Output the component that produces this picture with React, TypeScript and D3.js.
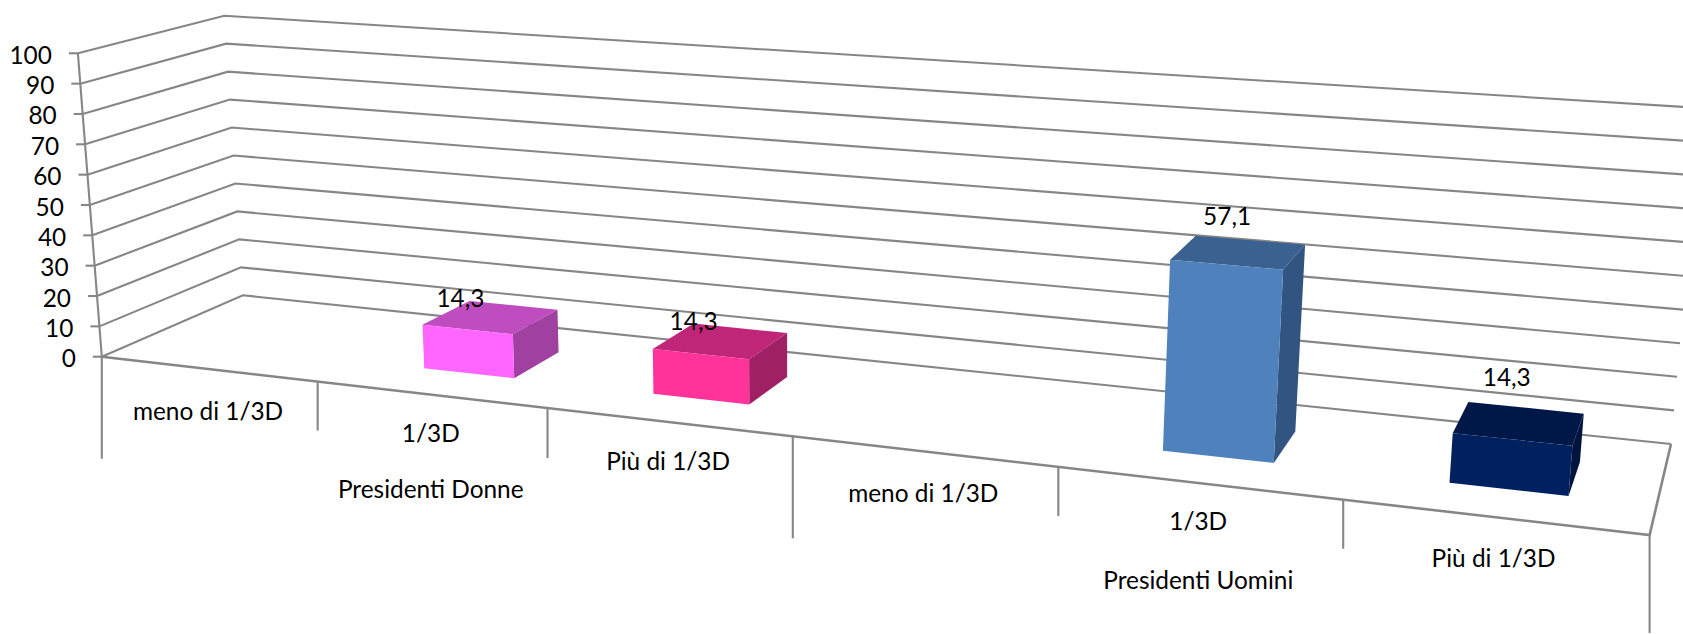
import React from "react";
import * as d3 from "d3";

const WIDTH = 1683;
const HEIGHT = 634;

const yTicks = [0, 10, 20, 30, 40, 50, 60, 70, 80, 90, 100];
const categories = ["meno di 1/3D", "1/3D", "Più di 1/3D", "meno di 1/3D", "1/3D", "Più di 1/3D"];
const groups = ["Presidenti Donne", "Presidenti Uomini"];
const values: (number | null)[] = [null, 14.3, 14.3, null, 57.1, 14.3];
const valueLabels = ["", "14,3", "14,3", "", "57,1", "14,3"];
const frontColors = ["", "#FF66FF", "#FF3399", "", "#4F81BD", "#002060"];
const topColors = ["", "#C04DBF", "#C02678", "", "#3B6190", "#001848"];
const sideColors = ["", "#A040A0", "#A02065", "", "#325480", "#00143E"];

// projection anchors of the 3D box
const FL = [101.8, 356.7];
const FR = [1649.6, 535];
const BL = [242.9, 295.3];
const BR = [1671, 444];
const frontLeftX = d3.scaleLinear().domain([0, 100]).range([101.8, 77.9]);
const frontLeftY = d3.scaleLinear().domain([0, 100]).range([356.7, 53.3]);
const backLeftX = d3.scaleLinear().domain([0, 100]).range([242.9, 224.3]);
const backLeftY = d3.scaleLinear().domain([0, 100]).range([295.3, 15.7]);
const backRightX = d3.scaleLinear().domain([0, 100]).range([1671, 1701]);
const backRightY = d3.scaleLinear().domain([0, 100]).range([444, 108]);
const catPos = d3.scaleLinear().domain([0, 3, 6]).range([0, 0.497, 1]);

const dx1 = FR[0] - BR[0], dx2 = BL[0] - BR[0], sx = FL[0] - FR[0] + BR[0] - BL[0];
const dy1 = FR[1] - BR[1], dy2 = BL[1] - BR[1], sy = FL[1] - FR[1] + BR[1] - BL[1];
const det = dx1 * dy2 - dx2 * dy1;
const g = (sx * dy2 - dx2 * sy) / det;
const h = (dx1 * sy - sx * dy1) / det;
const floor = (t: number, d: number): [number, number] => {
  const u = catPos(t);
  const w = g * u + h * d + 1;
  return [
    ((FR[0] - FL[0] + g * FR[0]) * u + (BL[0] - FL[0] + h * BL[0]) * d + FL[0]) / w,
    ((FR[1] - FL[1] + g * FR[1]) * u + (BL[1] - FL[1] + h * BL[1]) * d + FL[1]) / w,
  ];
};
const lift = (p: [number, number], v: number): [number, number] => [
  p[0] + (v / 100) * (p[0] - 790) * 0.034,
  p[1] - (v / 100) * (166 + 0.0004 * p[0] + 0.372 * p[1]),
];

const line = d3.line();
const GRID = "#868686";
const FONT = "Lato, 'Open Sans', sans-serif";
const FS = 24.4;
const STROKE = 2.1;
const BAR_FRONT = 0.3;
const BAR_BACK = 0.68;

const dividerDrops = [102, 49, 50, 102, 49, 49, 98];
const labelDrops = [42, 38, 39, 41, 37, 40];
const groupDrops = [94, 96];
const barShift = [0, 0, 0, 0, 0, 0.012];
const valueNudge = [[0, 0], [-97, -12.5], [-93.5, -12.5], [0, 0], [-78, -29], [-77, -37.5]];

export default function App() {
  return (
    <svg
      width={WIDTH}
      height={HEIGHT}
      style={{ position: "absolute", left: 0, top: 0, display: "block", background: "#fff" }}
    >
      {yTicks.map((v) => (
        <path
          key={v}
          d={line([
            [frontLeftX(v), frontLeftY(v)],
            [backLeftX(v), backLeftY(v)],
            [backRightX(v), backRightY(v)],
          ]) as string}
          fill="none"
          stroke={GRID}
          strokeWidth={STROKE}
        />
      ))}
      <path
        d={line([[frontLeftX(0), frontLeftY(0)], [frontLeftX(100), frontLeftY(100)]]) as string}
        stroke={GRID}
        strokeWidth={STROKE}
      />
      {yTicks.map((v) => (
        <g key={v}>
          <line
            x1={frontLeftX(v) - 9}
            x2={frontLeftX(v)}
            y1={frontLeftY(v)}
            y2={frontLeftY(v)}
            stroke={GRID}
            strokeWidth={STROKE}
          />
          <text
            x={frontLeftX(v) - 26}
            y={frontLeftY(v) + 1}
            textAnchor="end"
            dominantBaseline="central"
            fontFamily={FONT}
            fontSize={FS}
            fill="#000"
          >
            {v}
          </text>
        </g>
      ))}
      <path
        d={line([floor(0, 0), floor(6, 0), floor(6, 1)]) as string}
        fill="none"
        stroke={GRID}
        strokeWidth={2.6}
      />
      {dividerDrops.map((drop, i) => {
        const p = floor(i, 0);
        return <line key={i} x1={p[0]} x2={p[0]} y1={p[1]} y2={p[1] + drop} stroke={GRID} strokeWidth={STROKE} />;
      })}
      {values.map((v, i) => {
        if (v == null) return null;
        const s = barShift[i];
        const a = floor(i + 0.3 + s, BAR_FRONT);
        const b = floor(i + 0.7 + s, BAR_FRONT);
        const c = floor(i + 0.7 + s, BAR_BACK);
        const e = floor(i + 0.3 + s, BAR_BACK);
        const [ta, tb, tc, te] = [a, b, c, e].map((p) => lift(p, v));
        return (
          <g key={i}>
            <path d={line([ta, tb, tc, te]) + "Z"} fill={topColors[i]} />
            <path d={line([b, c, tc, tb]) + "Z"} fill={sideColors[i]} />
            <path d={line([a, b, tb, ta]) + "Z"} fill={frontColors[i]} />
          </g>
        );
      })}
      {values.map((v, i) => {
        if (v == null) return null;
        const tc = lift(floor(i + 0.7 + barShift[i], BAR_BACK), v);
        return (
          <text
            key={i}
            x={tc[0] + valueNudge[i][0]}
            y={tc[1] + valueNudge[i][1]}
            textAnchor="middle"
            dominantBaseline="central"
            fontFamily={FONT}
            fontSize={FS}
            fill="#000"
          >
            {valueLabels[i]}
          </text>
        );
      })}
      {categories.map((c, i) => {
        const p = floor(i + 0.5, 0);
        return (
          <text
            key={i}
            x={p[0]}
            y={p[1] + labelDrops[i]}
            textAnchor="middle"
            dominantBaseline="central"
            fontFamily={FONT}
            fontSize={FS}
            fill="#000"
          >
            {c}
          </text>
        );
      })}
      {groups.map((c, i) => {
        const p = floor(i * 3 + 1.5, 0);
        return (
          <text
            key={i}
            x={p[0]}
            y={p[1] + groupDrops[i]}
            textAnchor="middle"
            dominantBaseline="central"
            fontFamily={FONT}
            fontSize={FS}
            fill="#000"
          >
            {c}
          </text>
        );
      })}
    </svg>
  );
}
